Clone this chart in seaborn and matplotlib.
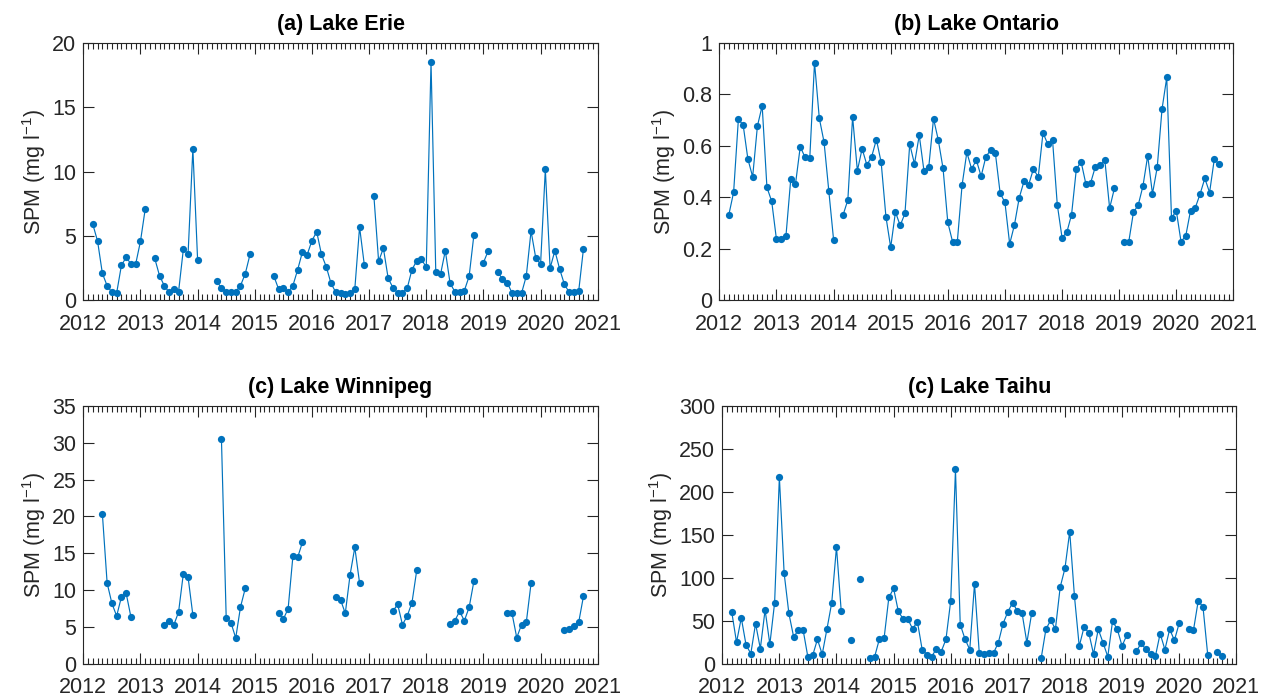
import numpy as np
import pandas as pd
import matplotlib
matplotlib.use("Agg")
import matplotlib.pyplot as plt
from matplotlib.ticker import FixedLocator, FormatStrFormatter
import seaborn as sns

nan = np.nan

# Monthly mean SPM, January 2012 .. December 2020 (one row per year, NaN = no data)
start_year = 2012
years = list(range(2012, 2022))

erie = [
    nan, nan, 5.91, 4.59, 2.10, 1.14, 0.63, 0.57, 2.72, 3.35, 2.83, 2.83,
    4.59, 7.10, nan, 3.26, 1.92, 1.14, 0.63, 0.88, 0.68, 3.96, 3.63, 11.78,
    3.11, nan, nan, nan, 1.51, 0.94, 0.68, 0.68, 0.68, 1.14, 2.07, 3.57,
    nan, nan, nan, nan, 1.89, 0.88, 0.94, 0.63, 1.14, 2.38, 3.76, 3.55,
    4.64, 5.33, 3.57, 2.62, 1.33, 0.63, 0.57, 0.52, 0.57, 0.88, 5.70, 2.75,
    nan, 8.13, 3.03, 4.06, 1.72, 0.99, 0.58, 0.58, 0.94, 2.39, 3.07, 3.19,
    2.57, 18.51, 2.18, 2.03, 3.86, 1.33, 0.68, 0.68, 0.76, 1.87, 5.08, nan,
    2.93, 3.84, nan, 2.18, 1.67, 1.38, 0.58, 0.55, 0.55, 1.89, 5.39, 3.27,
    2.83, 10.18, 2.50, 3.86, 2.44, 1.25, 0.63, 0.63, 0.71, 4.00, nan, nan,
]

ontario = [
    nan, nan, 0.333, 0.420, 0.703, 0.682, 0.549, 0.480, 0.677, 0.756, 0.439, 0.385,
    0.237, 0.238, 0.251, 0.470, 0.452, 0.597, 0.556, 0.552, 0.924, 0.708, 0.615, 0.425,
    0.236, nan, 0.332, 0.390, 0.713, 0.504, 0.589, 0.526, 0.558, 0.625, 0.536, 0.325,
    0.206, 0.343, 0.291, 0.338, 0.607, 0.530, 0.642, 0.502, 0.518, 0.706, 0.623, 0.513,
    0.303, 0.228, 0.228, 0.448, 0.575, 0.511, 0.545, 0.482, 0.558, 0.584, 0.571, 0.416,
    0.381, 0.219, 0.293, 0.398, 0.462, 0.450, 0.511, 0.479, 0.651, 0.607, 0.624, 0.372,
    0.244, 0.264, 0.333, 0.509, 0.539, 0.453, 0.456, 0.519, 0.524, 0.544, 0.358, 0.435,
    nan, 0.225, 0.225, 0.342, 0.370, 0.444, 0.562, 0.414, 0.517, 0.742, 0.866, 0.319,
    0.349, 0.228, 0.251, 0.349, 0.360, 0.413, 0.474, 0.419, 0.550, 0.528, nan, nan,
]

winnipeg = [
    nan, nan, nan, nan, 20.36, 10.94, 8.18, 6.46, 9.04, 9.53, 6.32, nan,
    nan, nan, nan, nan, nan, 5.28, 5.82, 5.23, 7.00, 12.20, 11.71, 6.59,
    nan, nan, nan, nan, nan, 30.50, 6.18, 5.55, 3.47, 7.68, 10.21, nan,
    nan, nan, nan, nan, nan, 6.82, 6.04, 7.45, 14.56, 14.42, 16.46, nan,
    nan, nan, nan, nan, nan, 8.99, 8.67, 6.82, 12.02, 15.78, 10.94, nan,
    nan, nan, nan, nan, nan, 7.13, 8.04, 5.28, 6.46, 8.27, 12.66, nan,
    nan, nan, nan, nan, nan, 5.32, 5.82, 7.09, 5.82, 7.63, 11.17, nan,
    nan, nan, nan, nan, nan, 6.82, 6.82, 3.51, 5.28, 5.59, 10.89, nan,
    nan, nan, nan, nan, nan, 4.55, 4.69, 5.14, 5.59, 9.13, nan, nan,
]

taihu = [
    nan, nan, 59.8, 24.7, 53.2, 21.6, 11.5, 46.5, 17.3, 62.5, 22.4, 70.7,
    217.1, 105.3, 58.3, 31.0, 38.8, 38.8, 7.2, 9.5, 28.2, 10.7, 40.3, 70.7,
    135.7, 60.6, nan, 27.5, nan, 98.3, nan, 6.0, 7.6, 28.2, 29.4, 76.9,
    87.4, 60.6, 52.0, 51.6, 40.3, 48.9, 16.2, 10.3, 8.0, 17.3, 13.8, 28.2,
    73.0, 226.0, 45.4, 28.6, 16.2, 92.9, 12.0, 11.0, 12.7, 12.3, 24.3, 46.5,
    60.2, 70.7, 61.3, 58.3, 24.3, 58.3, nan, 6.0, 39.9, 50.4, 40.3, 89.0,
    110.8, 153.6, 78.1, 20.1, 42.2, 36.0, 11.1, 39.9, 24.3, 8.0, 49.3, 39.9,
    20.4, 33.3, nan, 14.2, 23.6, 16.5, 10.7, 8.4, 34.9, 16.2, 39.9, 27.1,
    46.9, nan, 40.3, 38.8, 73.0, 66.0, 9.9, nan, 13.0, 9.2, nan, nan,
]

titles = ["(a) Lake Erie", "(b) Lake Ontario", "(c) Lake Winnipeg", "(c) Lake Taihu"]
y_limits = [20, 1, 35, 300]
y_steps = [5, 0.2, 5, 50]

BLUE = "#0072BD"
INK = "#262626"
FS = 15.5

sns.set_style("ticks")
plt.rcParams["font.family"] = ["Liberation Sans", "DejaVu Sans"]
plt.rcParams["mathtext.fontset"] = "custom"
plt.rcParams["mathtext.rm"] = "Liberation Sans"
plt.rcParams["mathtext.default"] = "regular"


def monthly_frame(values):
    v = np.asarray(values, dtype=float)
    t = start_year + np.arange(v.size) / 12.0
    seg = np.cumsum(np.isnan(v))  # new line segment after every gap
    df = pd.DataFrame({"t": t, "spm": v, "seg": seg})
    return df.dropna()


fig = plt.figure(figsize=(12.68, 7.0), dpi=100)
positions = [
    [0.0657, 0.5709, 0.4057, 0.3677],
    [0.5673, 0.5709, 0.4054, 0.3677],
    [0.0657, 0.0521, 0.4057, 0.3680],
    [0.5696, 0.0521, 0.4054, 0.3680],
]

for series, title, ymax, ystep, pos in zip(
    [erie, ontario, winnipeg, taihu], titles, y_limits, y_steps, positions
):
    ax = fig.add_axes(pos)
    df = monthly_frame(series)
    sns.lineplot(
        data=df, x="t", y="spm", units="seg", estimator=None,
        color=BLUE, linewidth=0.85, marker="o", markersize=5.2,
        markeredgewidth=0, markeredgecolor=BLUE, legend=False, ax=ax,
    )
    ax.set_xlim(years[0], years[-1])
    ax.set_ylim(0, ymax)
    ax.xaxis.set_major_locator(FixedLocator(years))
    ax.xaxis.set_minor_locator(
        FixedLocator(years[0] + np.arange(0, 12 * (len(years) - 1) + 1) / 12.0)
    )
    ax.yaxis.set_major_locator(FixedLocator(np.arange(0, ymax + ystep / 2, ystep)))
    ax.yaxis.set_major_formatter(FormatStrFormatter("%g"))
    ax.set_xticklabels([str(y) for y in years])
    ax.tick_params(axis="both", which="both", direction="in", top=True,
                   right=True, colors=INK, labelsize=FS, width=0.8)
    ax.tick_params(axis="both", which="major", length=8)
    ax.tick_params(axis="x", which="major", pad=10)
    ax.tick_params(axis="y", which="major", pad=5)
    ax.tick_params(axis="x", which="minor", length=4)
    ax.tick_params(axis="y", which="minor", length=0)
    for sp in ax.spines.values():
        sp.set_color(INK)
        sp.set_linewidth(0.8)
    ax.set_xlabel("")
    ax.set_ylabel("SPM (mg l$^{-1}$)", fontsize=FS, color=INK, labelpad=3)
    ax.set_title(title, fontsize=FS, fontweight="bold", pad=9, color="black")

fig.savefig("out.png", dpi=100)
